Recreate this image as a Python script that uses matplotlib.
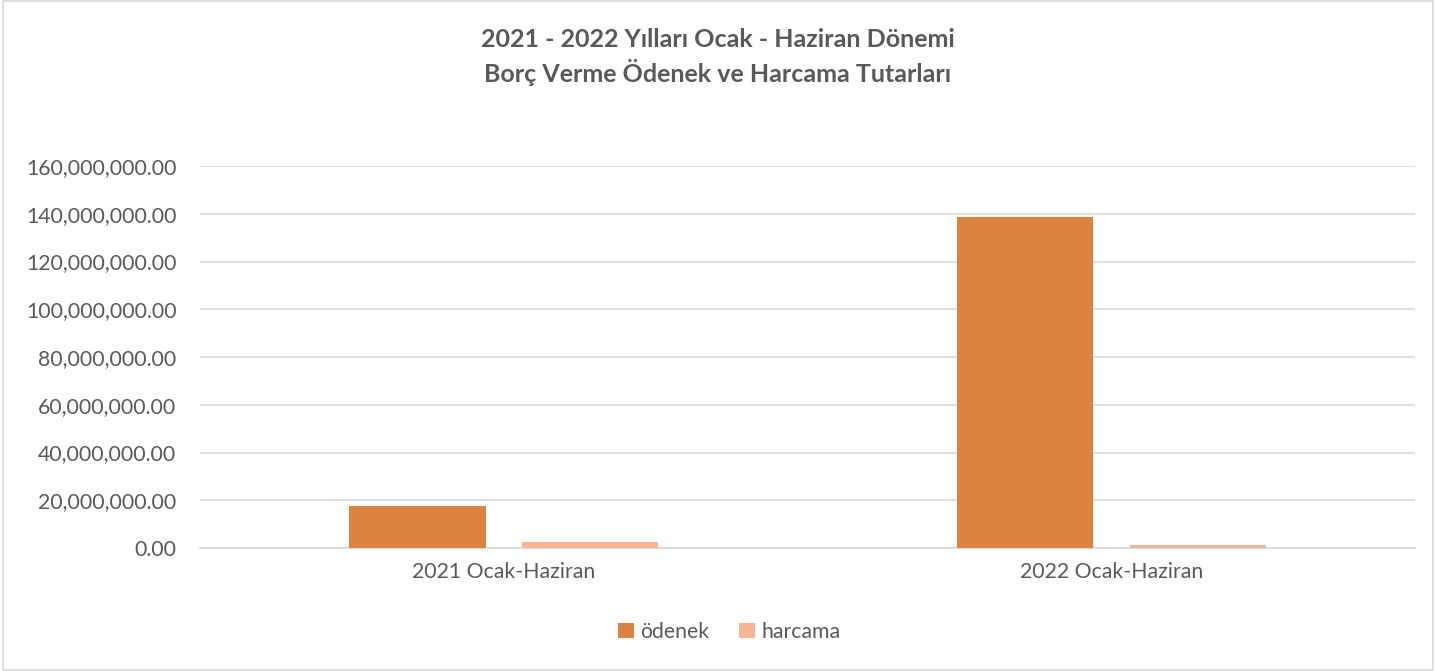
import matplotlib.pyplot as plt
from matplotlib.patches import Rectangle
from matplotlib.ticker import FuncFormatter, MultipleLocator

CATEGORIES = ["2021 Ocak-Haziran", "2022 Ocak-Haziran"]
ODENEK = [17_600_000, 138_800_000]
HARCAMA = [2_400_000, 1_100_000]

TITLE = "2021 - 2022 Yılları Ocak - Haziran Dönemi\nBorç Verme Ödenek ve Harcama Tutarları"

ORANGE = "#DC843F"
PEACH = "#F9B591"
TEXT = "#595959"
GRID = "#D9D9D9"

plt.rcParams["font.family"] = ["Lato", "DejaVu Sans"]

fig = plt.figure(figsize=(14.36, 6.71), dpi=100)
ax = fig.add_axes([0.1393, 0.1833, 0.8461, 0.5693])

x = list(range(len(CATEGORIES)))
width = 0.224
off = 0.142
ax.bar([i - off for i in x], ODENEK, width=width, color=ORANGE, label="ödenek", zorder=3)
ax.bar([i + off for i in x], HARCAMA, width=width, color=PEACH, label="harcama", zorder=3)

ax.set_xlim(-0.5, 1.5)
ax.set_ylim(0, 160_000_000)
ax.yaxis.set_major_locator(MultipleLocator(20_000_000))
ax.yaxis.set_major_formatter(FuncFormatter(lambda v, _: f"{v:,.2f}"))
ax.grid(axis="y", color=GRID, linewidth=1.2, zorder=0)
ax.set_xticks(x)
ax.set_xticklabels(CATEGORIES)
for side in ["top", "right", "left"]:
    ax.spines[side].set_visible(False)
ax.spines["bottom"].set_color(GRID)
ax.spines["bottom"].set_linewidth(1.2)
ax.tick_params(axis="both", length=0, labelsize=15.3, colors=TEXT, pad=10)
ax.tick_params(axis="y", pad=17)

fig.text(0.5, 0.915, TITLE, ha="center", va="center", fontsize=18,
         fontweight="bold", color=TEXT, linespacing=1.35)

leg = fig.legend(loc="center", bbox_to_anchor=(0.508, 0.058), ncol=2, frameon=False,
                 fontsize=15.3, handlelength=0.75, handleheight=0.75, handletextpad=0.3,
                 columnspacing=1.4)
for t in leg.get_texts():
    t.set_color(TEXT)

fig.add_artist(Rectangle((0.002, 0.002), 0.996, 0.996, transform=fig.transFigure,
                         fill=False, edgecolor=GRID, linewidth=1.2))

fig.savefig("out.png", dpi=100)
